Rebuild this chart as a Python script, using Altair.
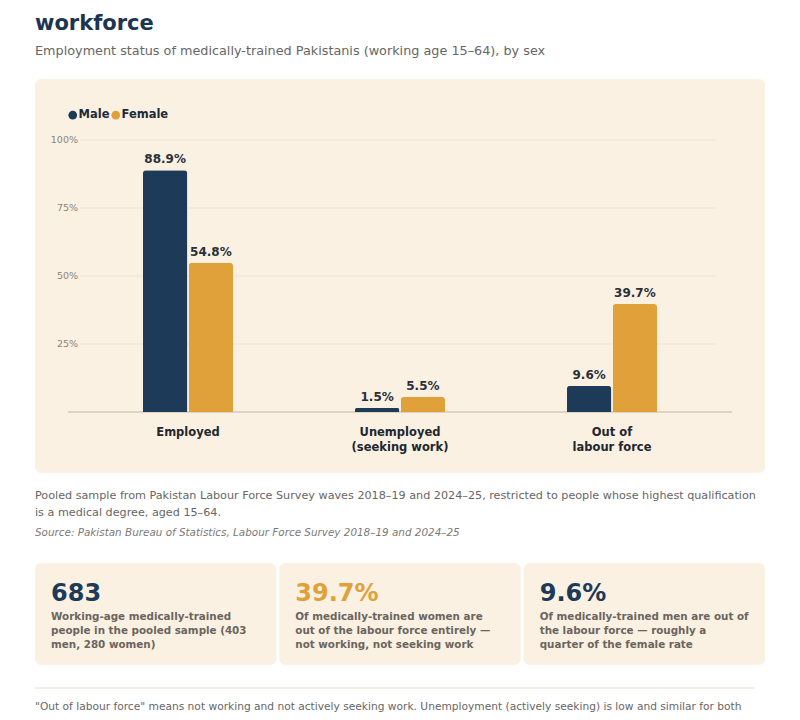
import altair as alt
import pandas as pd

# ---------------- data ----------------
categories = ["Employed", "Unemployed (seeking work)", "Out of labour force"]
category_labels = ["Employed", "Unemployed\n(seeking work)", "Out of\nlabour force"]
sexes = ["Male", "Female"]
male_pct = [88.9, 1.5, 9.6]
female_pct = [54.8, 5.5, 39.7]
tick_values = [25, 50, 75, 100]
tick_labels = ["25%", "50%", "75%", "100%"]

title_line1 = "Pakistan trains doctors and loses half of them from the"
title_line2 = "workforce"
subtitle = "Employment status of medically-trained Pakistanis (working age 15–64), by sex"
note_text = ("Pooled sample from Pakistan Labour Force Survey waves 2018–19 and 2024–25, restricted to people whose highest qualification\n"
             "is a medical degree, aged 15–64.")
source_text = "Source: Pakistan Bureau of Statistics, Labour Force Survey 2018–19 and 2024–25"
card_values = ["683", "39.7%", "9.6%"]
card_texts = [
    "Working-age medically-trained\npeople in the pooled sample (403\nmen, 280 women)",
    "Of medically-trained women are\nout of the labour force entirely —\nnot working, not seeking work",
    "Of medically-trained men are out of\nthe labour force — roughly a\nquarter of the female rate",
]
footer_text = ("\"Out of labour force\" means not working and not actively seeking work. "
               "Unemployment (actively seeking) is low and similar for both")

NAVY = "#1d3a58"
GOLD = "#e0a13b"
BEIGE = "#faf1e3"
FONT = "DejaVu Sans"

rows = []
for c, m, f in zip(categories, male_pct, female_pct):
    rows.append({"category": c, "sex": "Male", "value": m, "label": f"{m:.1f}%"})
    rows.append({"category": c, "sex": "Female", "value": f, "label": f"{f:.1f}%"})
bars_df = pd.DataFrame(rows)
ticks_df = pd.DataFrame({"tick": tick_values, "tick_label": tick_labels})
cat_df = pd.DataFrame({"category": categories, "cat_label": category_labels})
zero_df = pd.DataFrame({"tick": [0]})
one = pd.DataFrame({"k": [0]})

x_scale = alt.Scale(domain=categories, range=[74, 710], paddingInner=0.575, paddingOuter=0.2875)
y_scale = alt.Scale(domain=[0, 100], range=[404, 132])
off_scale = alt.Scale(domain=sexes, paddingInner=0.03, paddingOuter=0)


def rect(x, x2, y, y2, color, radius=6):
    return alt.Chart(one).mark_rect(color=color, cornerRadius=radius).encode(
        x=alt.value(x), x2=alt.value(x2), y=alt.value(y), y2=alt.value(y2))


def txt(text, x, y, size, color, weight="normal", style="normal", align="left",
        baseline="middle", line_height=None):
    kw = dict(font=FONT, fontSize=size, color=color, fontWeight=weight, fontStyle=style,
              align=align, baseline=baseline)
    if line_height is not None:
        kw["lineBreak"] = "\n"
        kw["lineHeight"] = line_height
    return alt.Chart(pd.DataFrame({"t": [text]})).mark_text(**kw).encode(
        text="t:N", x=alt.value(x), y=alt.value(y))


layers = []
# panel & cards backgrounds
layers.append(rect(27, 757, 71, 465, BEIGE))
card_x = [(27, 268.3), (271.3, 512.7), (515.7, 757)]
for (a, b) in card_x:
    layers.append(rect(a, b, 555, 657, BEIGE))

# gridlines & baseline
layers.append(alt.Chart(ticks_df).mark_rule(color="#ede3d1", strokeWidth=1).encode(
    y=alt.Y("tick:Q", scale=y_scale, axis=None), x=alt.value(72), x2=alt.value(708)))
layers.append(alt.Chart(ticks_df).mark_text(font=FONT, fontSize=9.5, color="#8c8479", align="right",
                                            baseline="middle").encode(
    y=alt.Y("tick:Q", scale=y_scale, axis=None), x=alt.value(70), text="tick_label:N"))
layers.append(alt.Chart(zero_df).mark_rule(color="#d5cab8", strokeWidth=1.5).encode(
    y=alt.Y("tick:Q", scale=y_scale, axis=None), x=alt.value(60), x2=alt.value(724)))

# bars
bars = alt.Chart(bars_df).mark_bar(cornerRadiusTopLeft=3, cornerRadiusTopRight=3).encode(
    x=alt.X("category:N", scale=x_scale, axis=None, sort=categories),
    xOffset=alt.XOffset("sex:N", scale=off_scale, sort=sexes),
    y=alt.Y("value:Q", scale=y_scale, axis=None),
    color=alt.Color("sex:N", scale=alt.Scale(domain=sexes, range=[NAVY, GOLD]),
                    legend=alt.Legend(orient="none", legendX=59, legendY=101, direction="horizontal",
                                      title=None, symbolType="circle", symbolSize=75,
                                      symbolStrokeWidth=0, labelFont=FONT, labelFontSize=11.5,
                                      labelFontWeight="bold", labelColor="#1e2a38",
                                      columnPadding=0, labelOffset=0)),
)
layers.append(bars)
layers.append(alt.Chart(bars_df).mark_text(font=FONT, fontSize=12, fontWeight="bold", color="#2a2f38",
                                           baseline="bottom", dy=-4).encode(
    x=alt.X("category:N", scale=x_scale, axis=None, sort=categories),
    xOffset=alt.XOffset("sex:N", scale=off_scale, sort=sexes),
    y=alt.Y("value:Q", scale=y_scale, axis=None),
    text="label:N"))

# category labels
layers.append(alt.Chart(cat_df).mark_text(font=FONT, fontSize=11.5, fontWeight="bold", color="#22262e",
                                          baseline="top", lineBreak="\n", lineHeight=14.5).encode(
    x=alt.X("category:N", scale=x_scale, axis=None, sort=categories),
    y=alt.value(419), text="cat_label:N"))

# titles
layers.append(txt(title_line1, 27, -4, 21, "#1d3550", weight="bold", baseline="alphabetic"))
layers.append(txt(title_line2, 27, 22, 21, "#1d3550", weight="bold", baseline="alphabetic"))
layers.append(txt(subtitle, 27, 43, 12.8, "#666666"))

# notes
layers.append(txt(note_text, 27, 482, 11.2, "#666666", baseline="top", line_height=17))
layers.append(txt(source_text, 27, 525, 10.4, "#7a7a7a", style="italic"))

# cards
card_colors = [NAVY, GOLD, NAVY]
for (a, b), v, t, c in zip(card_x, card_values, card_texts, card_colors):
    layers.append(txt(v, a + 16, 586, 24, c, weight="bold"))
    layers.append(txt(t, a + 16, 604, 10.35, "#6b655e", weight="bold", baseline="top", line_height=14.2))

# divider & footer
layers.append(alt.Chart(one).mark_rule(color="#e6e0d6", strokeWidth=1).encode(
    x=alt.value(27), x2=alt.value(747), y=alt.value(680)))
layers.append(txt(footer_text, 27, 699, 10.65, "#666666"))

chart = alt.layer(*layers).properties(
    width=784, height=712, autosize=alt.AutoSizeParams(type="none"), padding=0,
    background="white",
).configure_view(stroke=None).resolve_scale(color="independent")

chart.save("out.html", embed_options={"renderer": "svg", "actions": False})
